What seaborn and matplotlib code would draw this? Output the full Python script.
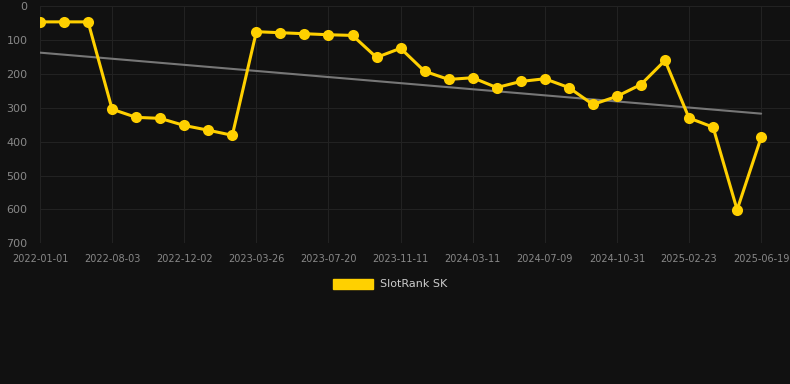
import numpy as np
import pandas as pd
import matplotlib
matplotlib.use("Agg")
import matplotlib.pyplot as plt
import seaborn as sns

# Rank values (lower = better, axis inverted)
ranks = [46, 46, 46, 304, 328, 331, 352, 366, 381, 75, 78, 81, 84, 86, 151,
         124, 192, 216, 211, 240, 222, 214, 240, 290, 266, 231, 160, 330, 357,
         601, 387]
tick_labels = ["2022-01-01", "2022-08-03", "2022-12-02", "2023-03-26",
               "2023-07-20", "2023-11-11", "2024-03-11", "2024-07-09",
               "2024-10-31", "2025-02-23", "2025-06-19"]
series_name = "SlotRank SK"

bg = "#111111"
yellow = "#FFD000"

df = pd.DataFrame({"idx": np.arange(len(ranks)), "rank": ranks})

# linear trend over the series
coef = np.polyfit(df["idx"], df["rank"], 1)
df["trend"] = np.polyval(coef, df["idx"])

sns.set_style("dark")
fig = plt.figure(figsize=(7.9, 3.84), dpi=100, facecolor=bg)
ax = fig.add_axes([40 / 790, 1 - 243.3 / 384, 750 / 790, 237 / 384])
ax.set_facecolor(bg)

sns.lineplot(data=df, x="idx", y="trend", ax=ax, color="#777777", linewidth=1.5)
sns.lineplot(data=df, x="idx", y="rank", ax=ax, color=yellow, linewidth=2.2,
             marker="o", markersize=8, markeredgewidth=0, label=series_name)

ax.set_xlim(0, 31.2)
ax.set_ylim(700, 0)
ax.set_yticks(range(0, 701, 100))
ax.set_xticks(range(0, len(ranks), 3))
ax.set_xticklabels(tick_labels)
ax.set_xlabel("")
ax.set_ylabel("")
ax.grid(True, color="#222222", linewidth=0.8)
for s in ax.spines.values():
    s.set_visible(False)
ax.tick_params(axis="x", colors="#888888", labelsize=7, length=5, width=0.8,
               color="#222222", pad=3)
ax.tick_params(axis="y", colors="#888888", labelsize=8, length=0, pad=9)
for lbl in ax.get_xticklabels():
    lbl.set_color("#888888")

h, l = ax.get_legend_handles_labels()
patch = plt.Rectangle((0, 0), 1, 1, color=yellow)
ax.legend([patch], [series_name], loc="center", bbox_to_anchor=(390 / 790, 1 - 284 / 384),
          bbox_transform=fig.transFigure, frameon=False, labelcolor="#cccccc",
          fontsize=8, handlelength=3.6, handleheight=1.0, handletextpad=0.6)

fig.savefig("out.png", dpi=100, facecolor=bg)
